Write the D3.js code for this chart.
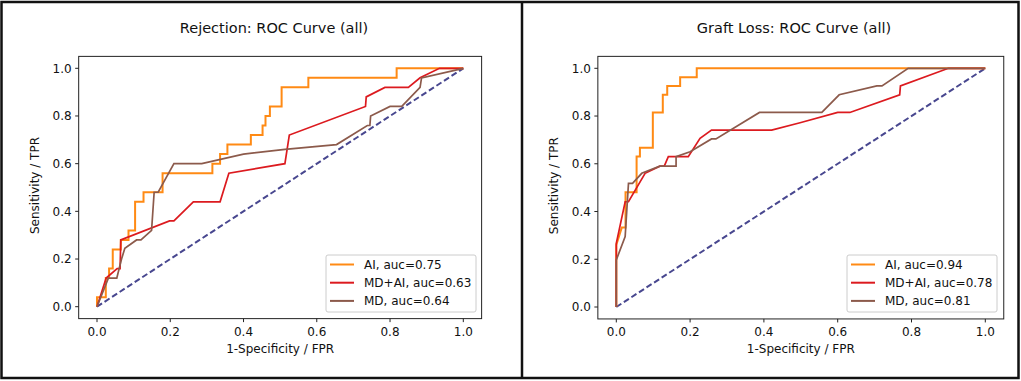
<!doctype html>
<html lang="en">
<head>
<meta charset="UTF-8" />
<title>ROC Curves</title>
<script src="https://d3js.org/d3.v7.min.js"></script>
<style>
  body { margin: 0; background: #fff; }
  svg { display: block; font-family: 'DejaVu Sans', sans-serif; }
  .title { font-size: 14.5px; fill: #111; }
  .tick-label { font-size: 12px; fill: #111; }
  .axis-label { font-size: 12px; fill: #111; }
  .legend-text { font-size: 12px; fill: #111; }
</style>
</head>
<body>
<svg id="chart" width="1021" height="381"></svg>
<script>
// ---- data ----
const tickValues = [0, 0.2, 0.4, 0.6, 0.8, 1.0]
const seriesNames = ['AI', 'MD+AI', 'MD']
const seriesColors = ['#ff8a14', '#dc1a1f', '#8c5a4b']

// Rejection panel
const rejAucs = [0.75, 0.63, 0.64]
const rejAiFpr = [0, 0, 0.024, 0.024, 0.033, 0.033, 0.043, 0.043, 0.065, 0.065, 0.086, 0.086, 0.104, 0.104, 0.127, 0.127, 0.179, 0.179, 0.315, 0.315, 0.336, 0.336, 0.356, 0.356, 0.42, 0.42, 0.452, 0.452, 0.46, 0.46, 0.472, 0.472, 0.504, 0.504, 0.577, 0.577, 0.818, 0.818, 1]
const rejAiTpr = [0, 0.04, 0.04, 0.12, 0.12, 0.16, 0.16, 0.24, 0.24, 0.28, 0.28, 0.32, 0.32, 0.44, 0.44, 0.48, 0.48, 0.56, 0.56, 0.60, 0.60, 0.64, 0.64, 0.68, 0.68, 0.72, 0.72, 0.76, 0.76, 0.80, 0.80, 0.84, 0.84, 0.92, 0.92, 0.96, 0.96, 1, 1]
const rejMdAiFpr = [0, 0.025, 0.055, 0.063, 0.065, 0.198, 0.21, 0.263, 0.336, 0.36, 0.513, 0.525, 0.733, 0.735, 0.786, 0.85, 0.882, 0.935, 1]
const rejMdAiTpr = [0, 0.12, 0.16, 0.16, 0.28, 0.36, 0.36, 0.44, 0.44, 0.56, 0.60, 0.72, 0.84, 0.88, 0.92, 0.92, 0.96, 1, 1]
const rejMdFpr = [0, 0.031, 0.054, 0.067, 0.076, 0.108, 0.12, 0.149, 0.156, 0.167, 0.21, 0.286, 0.40, 0.513, 0.654, 0.738, 0.745, 0.747, 0.80, 0.832, 0.882, 0.886, 1]
const rejMdTpr = [0, 0.12, 0.12, 0.20, 0.245, 0.28, 0.28, 0.32, 0.48, 0.48, 0.60, 0.60, 0.64, 0.66, 0.68, 0.76, 0.76, 0.80, 0.84, 0.84, 0.92, 0.96, 1]

// Graft loss panel
const graftAucs = [0.94, 0.78, 0.81]
const graftAiFpr = [0, 0, 0.015, 0.025, 0.025, 0.055, 0.055, 0.064, 0.064, 0.099, 0.099, 0.126, 0.126, 0.138, 0.138, 0.173, 0.173, 0.218, 0.218, 1]
const graftAiTpr = [0, 0.26, 0.333, 0.333, 0.481, 0.481, 0.63, 0.63, 0.667, 0.667, 0.815, 0.815, 0.889, 0.889, 0.926, 0.926, 0.963, 0.963, 1, 1]
const graftMdAiFpr = [0, 0, 0.024, 0.033, 0.078, 0.118, 0.13, 0.141, 0.195, 0.227, 0.258, 0.421, 0.498, 0.60, 0.633, 0.768, 0.77, 0.9, 1]
const graftMdAiTpr = [0, 0.267, 0.441, 0.441, 0.56, 0.59, 0.59, 0.63, 0.63, 0.707, 0.741, 0.741, 0.772, 0.815, 0.815, 0.889, 0.926, 1, 1]
const graftMdFpr = [0, 0, 0.024, 0.033, 0.044, 0.069, 0.118, 0.162, 0.162, 0.2, 0.258, 0.27, 0.388, 0.557, 0.604, 0.706, 0.72, 0.791, 1]
const graftMdTpr = [0, 0.197, 0.295, 0.518, 0.518, 0.56, 0.59, 0.59, 0.63, 0.65, 0.704, 0.704, 0.815, 0.815, 0.889, 0.926, 0.926, 1, 1]

const panels = [
  {
    title: 'Rejection: ROC Curve (all)', titleX: 274,
    x0: 97, x1: 463.3, y0: 306.7, y1: 68.3,
    legendX: 326,
    aucs: rejAucs,
    series: [[rejAiFpr, rejAiTpr], [rejMdAiFpr, rejMdAiTpr], [rejMdFpr, rejMdTpr]],
  },
  {
    title: 'Graft Loss: ROC Curve (all)', titleX: 794,
    x0: 616.3, x1: 985.3, y0: 307, y1: 68.3,
    legendX: 847,
    aucs: graftAucs,
    series: [[graftAiFpr, graftAiTpr], [graftMdAiFpr, graftMdAiTpr], [graftMdFpr, graftMdTpr]],
  },
]

const svg = d3.select('#chart')

// outer frame and divider
svg.append('rect').attr('x', 1.5).attr('y', 2).attr('width', 1017).attr('height', 376)
  .attr('fill', 'none').attr('stroke', '#111').attr('stroke-width', 2.5)
svg.append('line').attr('x1', 522).attr('x2', 522).attr('y1', 2).attr('y2', 378)
  .attr('stroke', '#111').attr('stroke-width', 2.5)

panels.forEach((p) => {
  const x = d3.scaleLinear().domain([0, 1]).range([p.x0, p.x1])
  const y = d3.scaleLinear().domain([0, 1]).range([p.y0, p.y1])
  const g = svg.append('g')

  // title
  g.append('text').attr('class', 'title').attr('x', p.titleX).attr('y', 33)
    .attr('text-anchor', 'middle').text(p.title)

  const left = x(-0.05), right = x(1.05), top = y(1.05), bottom = y(-0.05)

  // diagonal chance line
  g.append('line')
    .attr('x1', x(0)).attr('y1', y(0)).attr('x2', x(1)).attr('y2', y(1))
    .attr('stroke', '#48478f').attr('stroke-width', 2).attr('stroke-dasharray', '6,3')

  // ROC curves
  const line = d3.line().x((d) => x(d[0])).y((d) => y(d[1]))
  p.series.forEach((s, i) => {
    const pts = s[0].map((f, k) => [f, s[1][k]])
    g.append('path').datum(pts).attr('d', line)
      .attr('fill', 'none').attr('stroke', seriesColors[i])
      .attr('stroke-width', i === 0 ? 2 : 1.7).attr('stroke-linejoin', 'miter')
  })

  // axes frame
  g.append('rect').attr('x', left).attr('y', top).attr('width', right - left).attr('height', bottom - top)
    .attr('fill', 'none').attr('stroke', '#222').attr('stroke-width', 1)

  // ticks
  tickValues.forEach((t) => {
    g.append('line').attr('x1', x(t)).attr('x2', x(t)).attr('y1', bottom).attr('y2', bottom + 3.5)
      .attr('stroke', '#222')
    g.append('text').attr('class', 'tick-label').attr('x', x(t)).attr('y', bottom + 17)
      .attr('text-anchor', 'middle').text(t.toFixed(1))
    g.append('line').attr('x1', left).attr('x2', left - 3.5).attr('y1', y(t)).attr('y2', y(t))
      .attr('stroke', '#222')
    g.append('text').attr('class', 'tick-label').attr('x', left - 7).attr('y', y(t) + 4.3)
      .attr('text-anchor', 'end').text(t.toFixed(1))
  })

  // axis labels
  g.append('text').attr('class', 'axis-label').attr('x', (left + right) / 2).attr('y', bottom + 34)
    .attr('text-anchor', 'middle').text('1-Specificity / FPR')
  g.append('text').attr('class', 'axis-label')
    .attr('transform', `translate(${left - 40},${(top + bottom) / 2 - 2}) rotate(-90)`)
    .attr('text-anchor', 'middle').text('Sensitivity / TPR')

  // legend
  const lg = g.append('g').attr('transform', `translate(${p.legendX},255)`)
  lg.append('rect').attr('width', 150).attr('height', 57).attr('rx', 2)
    .attr('fill', '#fff').attr('fill-opacity', 0.8).attr('stroke', '#ccc')
  seriesNames.forEach((name, i) => {
    const ly = 9.5 + i * 18.2
    lg.append('line').attr('x1', 4).attr('x2', 28).attr('y1', ly).attr('y2', ly)
      .attr('stroke', seriesColors[i]).attr('stroke-width', 2)
    lg.append('text').attr('class', 'legend-text').attr('x', 38).attr('y', ly + 4.3)
      .text(`${name}, auc=${p.aucs[i].toFixed(2)}`)
  })
})
</script>
</body>
</html>
